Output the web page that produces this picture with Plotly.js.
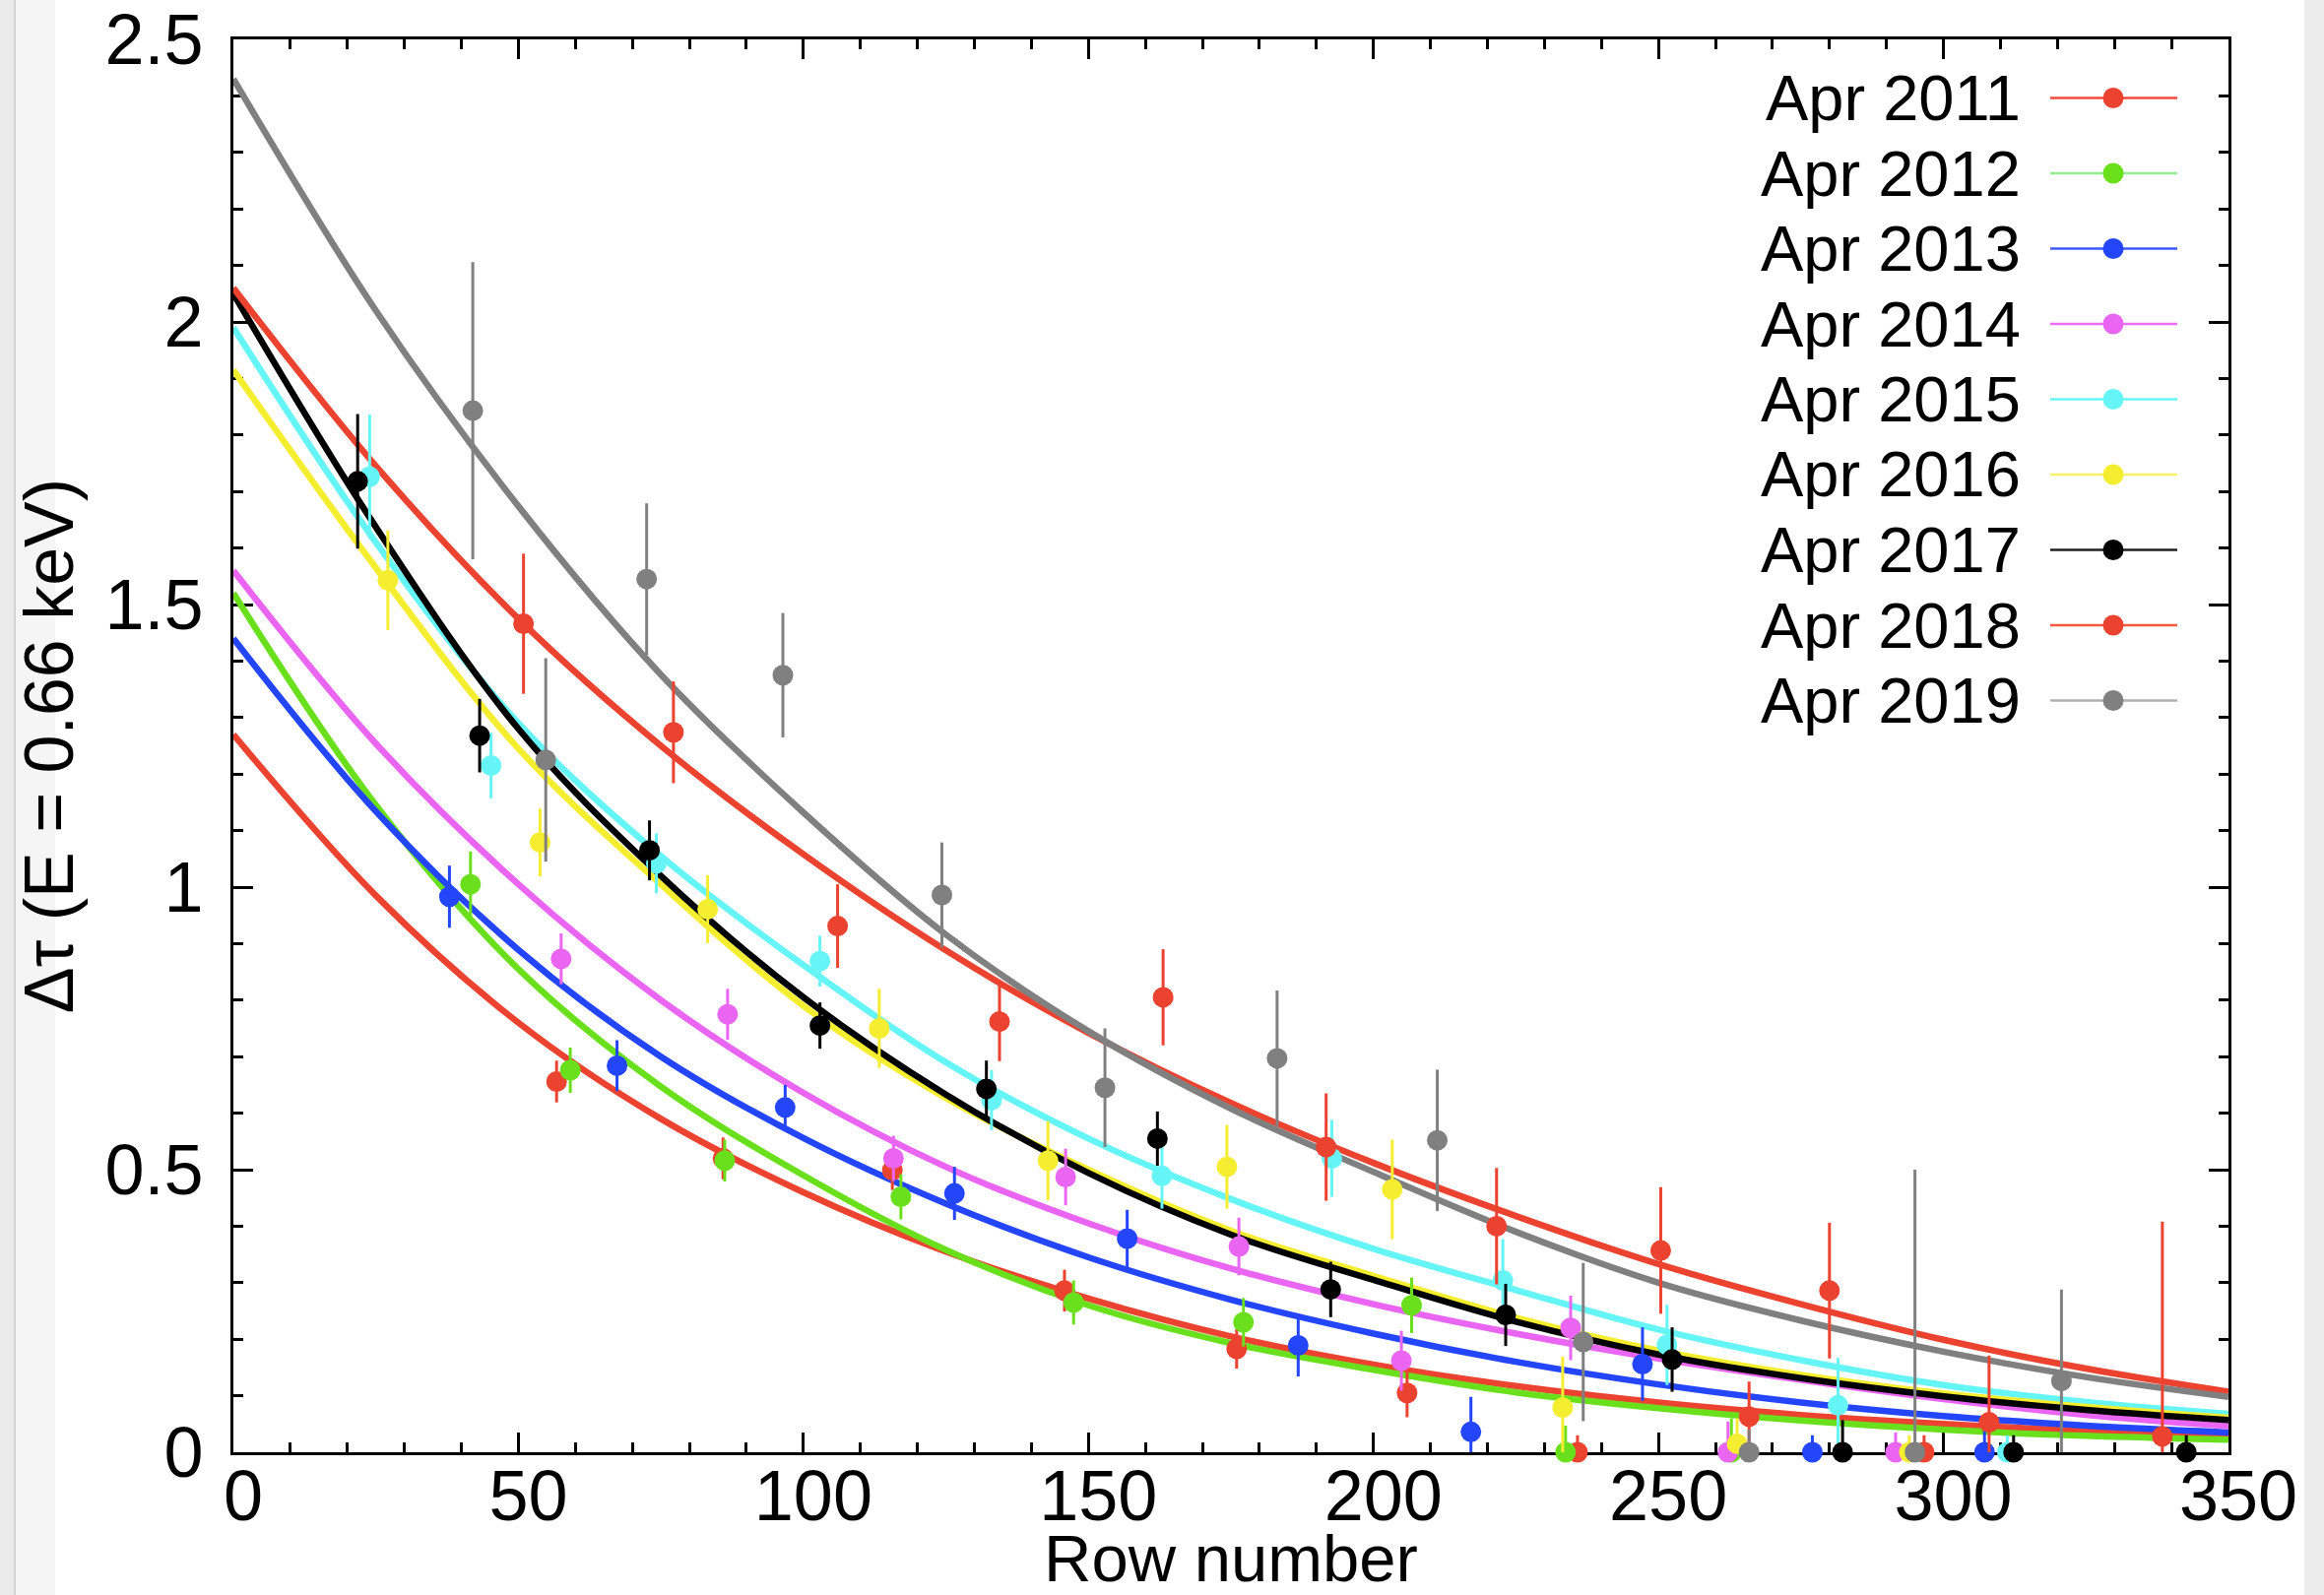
<!DOCTYPE html>
<html>
<head>
<meta charset="utf-8">
<script src="https://cdn.plot.ly/plotly-3.0.1.min.js"></script>
<style>
html, body { margin: 0; padding: 0; background: #ffffff; }
#chart { width: 2360px; height: 1620px; }
</style>
</head>
<body>
<div id="chart"></div>
<script>
// ---------------- data ----------------
const seriesNames = ["Apr 2011", "Apr 2012", "Apr 2013", "Apr 2014", "Apr 2015", "Apr 2016", "Apr 2017", "Apr 2018", "Apr 2019"];

// measured points (row number, delta tau), upper / lower error
const x2011 = [56.7, 85.9, 115.6, 145.8, 176.0, 205.9, 235.8, 265.9, 296.6];
const y2011 = [0.656, 0.520, 0.499, 0.286, 0.183, 0.105, 0.0, 0.063, 0.0];
const eUp2011 = [0.037, 0.037, 0.035, 0.037, 0.035, 0.043, 0.030, 0.062, 0.030];
const eLo2011 = [0.037, 0.037, 0.035, 0.037, 0.035, 0.043, 0.0, 0.062, 0.0];

const x2012 = [41.6, 59.1, 86.2, 117.1, 147.4, 177.2, 206.7, 233.7, 262.8];
const y2012 = [1.005, 0.676, 0.516, 0.452, 0.265, 0.230, 0.260, 0.0, 0.0];
const eUp2012 = [0.058, 0.040, 0.037, 0.040, 0.039, 0.043, 0.049, 0.047, 0.060];
const eLo2012 = [0.058, 0.040, 0.037, 0.040, 0.039, 0.043, 0.049, 0.0, 0.0];

const x2013 = [37.9, 67.3, 96.8, 126.5, 156.8, 186.8, 217.1, 247.2, 277.0, 307.2];
const y2013 = [0.983, 0.684, 0.610, 0.458, 0.378, 0.189, 0.036, 0.156, 0.0, 0.0];
const eUp2013 = [0.055, 0.045, 0.040, 0.047, 0.051, 0.055, 0.062, 0.065, 0.030, 0.050];
const eLo2013 = [0.055, 0.045, 0.040, 0.047, 0.051, 0.055, 0.036, 0.065, 0.0, 0.0];

const x2014 = [57.5, 86.7, 115.8, 146.0, 176.4, 204.9, 234.6, 262.2, 291.6];
const y2014 = [0.873, 0.775, 0.520, 0.487, 0.364, 0.162, 0.220, 0.0, 0.0];
const eUp2014 = [0.045, 0.045, 0.040, 0.050, 0.051, 0.053, 0.057, 0.054, 0.035];
const eLo2014 = [0.045, 0.045, 0.040, 0.050, 0.051, 0.053, 0.057, 0.0, 0.0];

const x2015 = [23.9, 45.2, 74.2, 102.9, 133.0, 162.9, 192.7, 222.7, 251.5, 281.5, 311.2];
const y2015 = [1.726, 1.215, 1.042, 0.869, 0.623, 0.489, 0.520, 0.304, 0.190, 0.083, 0.0];
const eUp2015 = [0.110, 0.058, 0.053, 0.045, 0.053, 0.058, 0.068, 0.073, 0.071, 0.084, 0.030];
const eLo2015 = [0.110, 0.058, 0.053, 0.045, 0.053, 0.058, 0.068, 0.073, 0.071, 0.083, 0.0];

const x2016 = [27.1, 53.8, 83.2, 113.3, 142.9, 174.3, 203.3, 233.2, 263.8, 294.0];
const y2016 = [1.543, 1.079, 0.961, 0.750, 0.516, 0.505, 0.465, 0.079, 0.015, 0.0];
const eUp2016 = [0.088, 0.060, 0.060, 0.070, 0.070, 0.074, 0.088, 0.090, 0.045, 0.030];
const eLo2016 = [0.088, 0.060, 0.060, 0.070, 0.070, 0.074, 0.088, 0.079, 0.015, 0.0];

const x2017 = [21.8, 43.2, 73.0, 102.9, 132.1, 162.1, 192.5, 223.2, 252.4, 282.3, 312.3, 342.6];
const y2017 = [1.718, 1.268, 1.065, 0.755, 0.643, 0.555, 0.288, 0.243, 0.164, 0.0, 0.0, 0.0];
const eUp2017 = [0.119, 0.065, 0.053, 0.041, 0.050, 0.048, 0.049, 0.055, 0.057, 0.057, 0.030, 0.030];
const eLo2017 = [0.119, 0.065, 0.053, 0.041, 0.050, 0.048, 0.049, 0.055, 0.057, 0.0, 0.0, 0.0];

const x2018 = [50.9, 77.2, 106.0, 134.4, 163.1, 191.7, 221.6, 250.4, 280.0, 308.0, 338.4];
const y2018 = [1.466, 1.274, 0.931, 0.762, 0.805, 0.540, 0.400, 0.357, 0.286, 0.053, 0.028];
const eUp2018 = [0.124, 0.090, 0.074, 0.070, 0.085, 0.095, 0.103, 0.112, 0.120, 0.118, 0.380];
const eLo2018 = [0.124, 0.090, 0.074, 0.070, 0.085, 0.095, 0.103, 0.112, 0.120, 0.053, 0.028];

const x2019 = [42.0, 54.8, 72.5, 96.4, 124.3, 152.9, 183.1, 211.2, 236.8, 265.9, 295.0, 320.7];
const y2019 = [1.843, 1.225, 1.545, 1.375, 0.986, 0.645, 0.697, 0.552, 0.195, 0.0, 0.0, 0.126];
const eUp2019 = [0.263, 0.180, 0.134, 0.110, 0.093, 0.105, 0.120, 0.125, 0.140, 0.040, 0.500, 0.162];
const eLo2019 = [0.263, 0.180, 0.134, 0.110, 0.093, 0.105, 0.120, 0.125, 0.140, 0.0, 0.0, 0.126];

// fitted curves at these rows
const fitX = [0, 25, 50, 75, 100, 125, 150, 175, 200, 225, 250, 275, 300, 325, 350];
const fit2011 = [1.27, 0.985, 0.760, 0.590, 0.460, 0.355, 0.272, 0.205, 0.155, 0.117, 0.088, 0.066, 0.050, 0.037, 0.028];
const fit2012 = [1.52, 1.145, 0.855, 0.647, 0.490, 0.358, 0.260, 0.193, 0.146, 0.106, 0.078, 0.056, 0.040, 0.029, 0.022];
const fit2013 = [1.44, 1.134, 0.889, 0.700, 0.556, 0.440, 0.345, 0.270, 0.210, 0.160, 0.120, 0.088, 0.064, 0.047, 0.035];
const fit2014 = [1.56, 1.254, 1.005, 0.800, 0.636, 0.505, 0.405, 0.325, 0.262, 0.210, 0.166, 0.128, 0.094, 0.066, 0.046];
const fit2015 = [1.99, 1.61, 1.29, 1.055, 0.862, 0.690, 0.555, 0.448, 0.360, 0.287, 0.217, 0.163, 0.119, 0.089, 0.068];
const fit2016 = [1.915, 1.565, 1.245, 1.005, 0.790, 0.627, 0.500, 0.392, 0.312, 0.238, 0.180, 0.137, 0.104, 0.080, 0.061];
const fit2017 = [2.05, 1.637, 1.28, 1.020, 0.805, 0.633, 0.494, 0.385, 0.305, 0.231, 0.173, 0.131, 0.099, 0.075, 0.057];
const fit2018 = [2.06, 1.745, 1.475, 1.250, 1.058, 0.888, 0.742, 0.618, 0.512, 0.418, 0.333, 0.262, 0.199, 0.148, 0.107];
const fit2019 = [2.43, 2.02, 1.674, 1.376, 1.132, 0.916, 0.745, 0.608, 0.496, 0.390, 0.300, 0.233, 0.178, 0.133, 0.098];

const xTickVals = [0, 50, 100, 150, 200, 250, 300, 350];
const yTickVals = [0, 0.5, 1, 1.5, 2, 2.5];

// ---------------- styling ----------------
const colors = ["#ec4230", "#6ae01c", "#2446fa", "#e965f2", "#66f5f7", "#f5ee30", "#000000", "#ec4230", "#808080"];
const legendLineColors = ["#f24a3c", "#8ff08f", "#3d5cff", "#ec6cf4", "#66f6f8", "#f7f268", "#222222", "#f25a40", "#b0b0b0"];

const pts = [
  [x2011, y2011, eUp2011, eLo2011],
  [x2012, y2012, eUp2012, eLo2012],
  [x2013, y2013, eUp2013, eLo2013],
  [x2014, y2014, eUp2014, eLo2014],
  [x2015, y2015, eUp2015, eLo2015],
  [x2016, y2016, eUp2016, eLo2016],
  [x2017, y2017, eUp2017, eLo2017],
  [x2018, y2018, eUp2018, eLo2018],
  [x2019, y2019, eUp2019, eLo2019]
];
const fits = [fit2011, fit2012, fit2013, fit2014, fit2015, fit2016, fit2017, fit2018, fit2019];

const FONT = "Liberation Sans, Arial, Helvetica, sans-serif";
const traces = [];

fits.forEach((f, i) => {
  traces.push({
    type: "scatter", mode: "lines", x: fitX, y: f,
    line: { color: colors[i], width: 6.5, shape: "spline", smoothing: 1.0 },
    showlegend: false, hoverinfo: "skip", name: seriesNames[i] + " fit"
  });
});
pts.forEach((p, i) => {
  traces.push({
    type: "scatter", mode: "markers", x: p[0], y: p[1], name: seriesNames[i],
    marker: { color: colors[i], size: 21, line: { width: 0 } },
    error_y: { type: "data", symmetric: false, array: p[2], arrayminus: p[3],
               visible: true, width: 0, thickness: 3, color: colors[i] },
    cliponaxis: false, showlegend: false
  });
});

// plot area in pixels
const L = 237, R = 2263, T = 40, B = 1475;
const W = 2360, H = 1620;
const px2paperX = v => (v - L) / (R - L);
const px2paperY = v => (B - v) / (B - T);

const shapes = [
  // screenshot side strips
  { type: "rect", xref: "paper", yref: "paper", x0: px2paperX(0), x1: px2paperX(15), y0: px2paperY(H), y1: px2paperY(0),
    fillcolor: "#ebebeb", line: { width: 0 }, layer: "below" },
  { type: "rect", xref: "paper", yref: "paper", x0: px2paperX(15), x1: px2paperX(56), y0: px2paperY(H), y1: px2paperY(0),
    fillcolor: "#f5f5f5", line: { width: 0 }, layer: "below" },
  { type: "line", xref: "paper", yref: "paper", x0: px2paperX(15), x1: px2paperX(15), y0: px2paperY(H), y1: px2paperY(0),
    line: { color: "#d2d2d2", width: 2 }, layer: "below" },
  { type: "rect", xref: "paper", yref: "paper", x0: px2paperX(2340), x1: px2paperX(W), y0: px2paperY(H), y1: px2paperY(0),
    fillcolor: "#ececec", line: { width: 0 }, layer: "below" }
];
const annotations = [];

// custom legend: text on the left, line + marker on the right
seriesNames.forEach((n, i) => {
  const rowY = 99.5 + 76.5 * i;
  const yp = px2paperY(rowY);
  annotations.push({
    xref: "paper", yref: "paper", x: px2paperX(2054), y: yp,
    xanchor: "right", yanchor: "middle", showarrow: false,
    text: n, font: { family: FONT, size: 65, color: "#000000" }
  });
  shapes.push({
    type: "line", xref: "paper", yref: "paper",
    x0: px2paperX(2082), x1: px2paperX(2211), y0: yp, y1: yp,
    line: { color: legendLineColors[i], width: 2.5 }
  });
  shapes.push({
    type: "circle", xref: "paper", yref: "paper",
    xsizemode: "pixel", ysizemode: "pixel",
    xanchor: px2paperX(2146), yanchor: yp,
    x0: -10.5, x1: 10.5, y0: -10.5, y1: 10.5,
    fillcolor: colors[i], line: { width: 0 }
  });
});

const axisCommon = {
  showline: true, linecolor: "#000000", linewidth: 3, mirror: "allticks",
  ticks: "inside", ticklen: 20, tickwidth: 3, tickcolor: "#000000",
  showgrid: false, zeroline: false, layer: "below traces",
  tickfont: { family: FONT, size: 72, color: "#000000" },
  automargin: false
};

const layout = {
  width: W, height: H,
  margin: { l: L, r: W - R, t: T, b: H - B, pad: 0 },
  paper_bgcolor: "#ffffff", plot_bgcolor: "#ffffff",
  showlegend: false,
  xaxis: Object.assign({}, axisCommon, {
    range: [0, 350], tickmode: "array", tickvals: xTickVals,
    minor: { dtick: 10, tick0: 0, ticks: "inside", ticklen: 10, tickwidth: 3, tickcolor: "#000000", showgrid: false },
    ticklabelshift: 10, ticklabelstandoff: -20,
    title: { text: "Row number", font: { family: FONT, size: 67, color: "#000000" }, standoff: 20 }
  }),
  yaxis: Object.assign({}, axisCommon, {
    range: [0, 2.5], tickmode: "array", tickvals: yTickVals,
    minor: { dtick: 0.1, tick0: 0, ticks: "inside", ticklen: 10, tickwidth: 3, tickcolor: "#000000", showgrid: false },
    ticklabelstandoff: 13,
    title: { text: "Δτ (E = 0.66 keV)", font: { family: FONT, size: 70, color: "#000000" }, standoff: 10 }
  }),
  shapes: shapes,
  annotations: annotations
};

Plotly.newPlot("chart", traces, layout, { displayModeBar: false, staticPlot: true });
</script>
</body>
</html>
